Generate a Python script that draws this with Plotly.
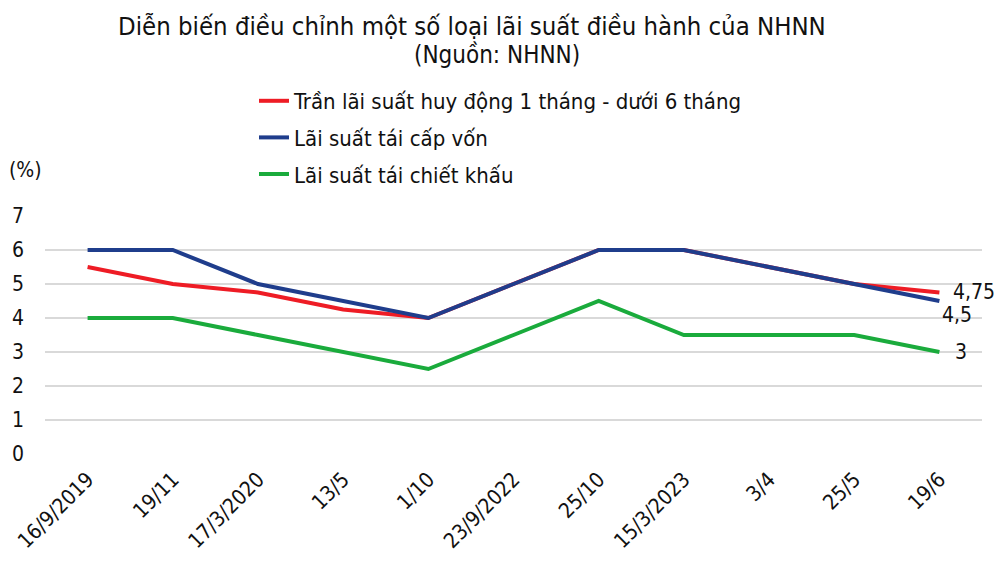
import plotly.graph_objects as go

categories = ["16/9/2019", "19/11", "17/3/2020", "13/5", "1/10", "23/9/2022",
              "25/10", "15/3/2023", "3/4", "25/5", "19/6"]
tran_huy_dong = [5.5, 5.0, 4.75, 4.25, 4.0, 5.0, 6.0, 6.0, 5.5, 5.0, 4.75]
tai_cap_von = [6.0, 6.0, 5.0, 4.5, 4.0, 5.0, 6.0, 6.0, 5.5, 5.0, 4.5]
tai_chiet_khau = [4.0, 4.0, 3.5, 3.0, 2.5, 3.5, 4.5, 3.5, 3.5, 3.5, 3.0]
end_labels = ["4,75", "4,5", "3"]

FONT = "DejaVu Sans Condensed, DejaVu Sans, sans-serif"
TXT = "#111111"

fig = go.Figure()
series = [
    ("Trần lãi suất huy động 1 tháng - dưới 6 tháng", tran_huy_dong, "#ee1c25"),
    ("Lãi suất tái cấp vốn", tai_cap_von, "#1f3d8c"),
    ("Lãi suất tái chiết khấu", tai_chiet_khau, "#1aab3c"),
]
for i, (name, vals, col) in enumerate(series):
    fig.add_trace(go.Scatter(x=categories, y=vals, name=name, mode="lines",
                             line=dict(color=col, width=4), legendgroup=str(i)))

# end labels
shifts = [(12, 1), (1, -14), (14, 0)]
for (name, vals, col), lab, (dx, dy) in zip(series, end_labels, shifts):
    fig.add_annotation(x=categories[-1], y=vals[-1], text=lab, showarrow=False,
                       xanchor="left", yanchor="middle", xshift=dx, yshift=dy,
                       font=dict(size=21, color=TXT, family=FONT))

fig.update_layout(
    width=1000, height=564,
    margin=dict(l=45, r=18, t=216, b=110),
    paper_bgcolor="white", plot_bgcolor="white",
    font=dict(family=FONT, color=TXT),
    showlegend=True,
    legend=dict(x=(254 - 45) / 937, y=(454 - 80) / 238, xanchor="left", yanchor="top",
                font=dict(size=22, family=FONT, color=TXT), tracegroupgap=5,
                bgcolor="rgba(0,0,0,0)"),
    xaxis=dict(type="category", range=[-0.5, 10.5], showgrid=False, zeroline=False,
               showline=False, ticks="", tickangle=-45, automargin=False,
               tickfont=dict(size=21, family=FONT, color=TXT), ticklabelstandoff=8),
    yaxis=dict(range=[0, 7], dtick=1, showgrid=True, gridcolor="#d9d9d9", gridwidth=1.5,
               zeroline=False, showline=False, ticks="", automargin=False,
               tickfont=dict(size=21, family=FONT, color=TXT), ticklabelstandoff=20),
)

def px_annot(text, xpx, ypx, size):
    fig.add_annotation(xref="paper", yref="paper",
                       x=(xpx - 45) / 937, y=(454 - ypx) / 238,
                       text=text, showarrow=False, xanchor="center", yanchor="middle",
                       font=dict(size=size, family=FONT, color=TXT))

px_annot("Diễn biến điều chỉnh một số loại lãi suất điều hành của NHNN", 472, 26, 25.5)
px_annot("(Nguồn: NHNN)", 497, 55, 24)
px_annot("(%)", 25, 170, 21)

fig.write_html("out.html", config={"displayModeBar": False},
               post_script="document.body.style.margin='0';document.body.style.overflow='hidden';")
